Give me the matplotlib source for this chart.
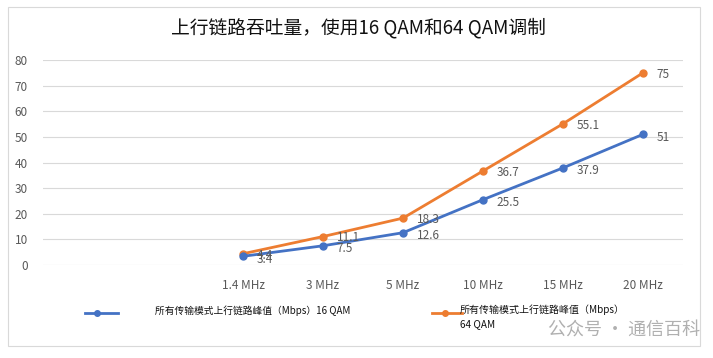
import matplotlib
matplotlib.use("Agg")
import matplotlib.pyplot as plt
from matplotlib.patches import Rectangle
from matplotlib.lines import Line2D
import numpy as np

plt.rcParams['font.family'] = ['Noto Sans CJK SC', 'DejaVu Sans']

title = "上行链路吞吐量，使用16 QAM和64 QAM调制"
categories = ["1.4 MHz", "3 MHz", "5 MHz", "10 MHz", "15 MHz", "20 MHz"]
qam16 = [3.4, 7.5, 12.6, 25.5, 37.9, 51]
qam64 = [4.4, 11.1, 18.3, 36.7, 55.1, 75]
label16 = "所有传输模式上行链路峰值（Mbps）16 QAM"
label64 = "所有传输模式上行链路峰值（Mbps）\n64 QAM"
watermark = "公众号 · 通信百科"

BLUE = "#4472C4"
ORANGE = "#ED7D31"
GRID = "#D9D9D9"
TXT = "#595959"

fig = plt.figure(figsize=(7.13, 3.58), dpi=100)
fig.patch.set_facecolor("white")
# outer frame
fig.add_artist(Rectangle((8/713, 1-346/358), 692/713, 339/358, transform=fig.transFigure,
                         fill=False, edgecolor="#D9D9D9", linewidth=0.8))

ax = fig.add_axes([43/713, 1-265/358, 640/713, 205/358])
n_empty = 2
x = np.arange(n_empty, n_empty + len(categories))
ax.set_xlim(-0.5, n_empty + len(categories) - 0.5)
ax.set_ylim(0, 80)
ax.set_yticks(np.arange(0, 81, 10))
ax.set_xticks(x)
ax.set_xticklabels(categories)
ax.grid(axis="y", color=GRID, linewidth=0.8)
ax.set_axisbelow(True)
for s in ax.spines.values():
    s.set_visible(False)
ax.tick_params(axis="both", length=0, colors=TXT, labelsize=8.5)
ax.tick_params(axis="y", pad=11)
ax.tick_params(axis="x", pad=10)

ax.plot(x, qam64, color=ORANGE, linewidth=2, marker="o", markersize=5)
ax.plot(x, qam16, color=BLUE, linewidth=2, marker="o", markersize=5)

for xi, v in zip(x, qam64):
    ax.annotate(f"{v:g}", (xi, v), xytext=(10, -1), textcoords="offset points",
                ha="left", va="center", fontsize=8.5, color=TXT)
for xi, v in zip(x, qam16):
    ax.annotate(f"{v:g}", (xi, v), xytext=(10, -2), textcoords="offset points",
                ha="left", va="center", fontsize=8.5, color=TXT)

fig.text(358/713, 1-28/358, title, ha="center", va="center", fontsize=13.5, color="#111111")

# legend
fig.add_artist(Line2D([85/713, 118/713], [1-313/358]*2, color=BLUE, linewidth=2,
                      transform=fig.transFigure))
fig.add_artist(Line2D([97/713], [1-313/358], color=BLUE, marker="o", markersize=4,
                      transform=fig.transFigure))
fig.text(155/713, 1-311/358, label16, ha="left", va="center", fontsize=7, color="#111111")
fig.add_artist(Line2D([432/713, 462/713], [1-313/358]*2, color=ORANGE, linewidth=2,
                      transform=fig.transFigure))
fig.add_artist(Line2D([445/713], [1-313/358], color=ORANGE, marker="o", markersize=4,
                      transform=fig.transFigure))
fig.text(460/713, 1-304/358, label64, ha="left", va="top", fontsize=7.2, color="#111111",
         linespacing=1.5)

fig.text(700/713, 1-331/358, watermark, ha="right", va="center", fontsize=13, color="#B0B0B0")

fig.savefig("out.png", dpi=100)
